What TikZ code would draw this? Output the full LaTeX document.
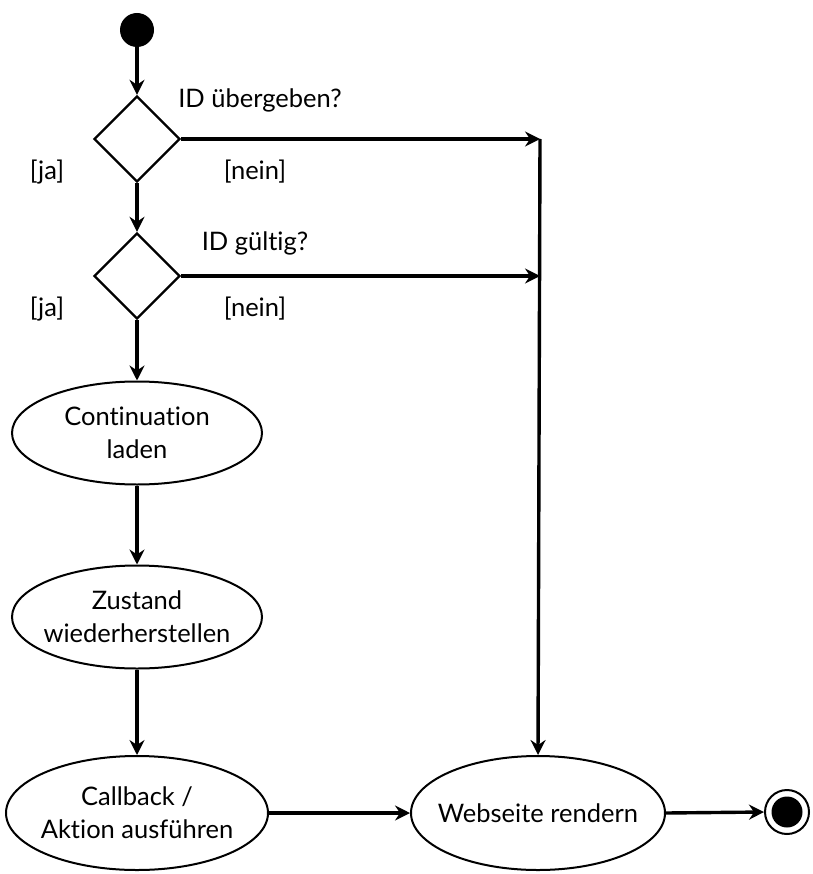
\documentclass[tikz,border=0pt]{standalone}
\usepackage{fontspec}
\setmainfont[Ligatures={NoCommon,NoRare,NoContextual}]{Lato}
\usetikzlibrary{arrows.meta,shapes.geometric}
\begin{document}
\begin{tikzpicture}[x=1pt,y=-1pt,
  font=\fontsize{25.5}{33}\selectfont,
  flow/.style={line width=3.4pt,-{Stealth[length=15pt,width=15pt,inset=5pt]}},
  activity/.style={ellipse,draw,line width=2pt,minimum width=250pt,minimum height=103pt,
    inner xsep=-45pt,inner ysep=0pt,align=center},
  decision/.style={diamond,draw,line width=2.4pt,minimum width=86pt,minimum height=86pt,inner sep=0pt},
  guard/.style={inner sep=0pt}]
\useasboundingbox (0,0) rectangle (812,874);

% start and end markers
\node[circle,fill=black,minimum size=34pt,inner sep=0pt] (start) at (137,30) {};
\node[circle,draw,line width=2pt,minimum size=44pt,inner sep=0pt] (final) at (787,812) {};
\node[circle,fill=black,minimum size=31pt,inner sep=0pt] (finaldot) at (final.center) {};

% decisions
\node[decision] (d1) at (137,139) {};
\node[decision] (d2) at (137,276) {};

% activities
\node[activity] (load) at (137,433) {Continuation\\laden};
\node[activity] (restore) at (137,617) {Zustand\\wiederherstellen};
\node[activity,minimum width=262pt,minimum height=114pt] (callback) at (137,813) {Callback /\\Aktion ausführen};
\node[activity,minimum width=254pt,minimum height=114pt] (render) at (538,813) {Webseite rendern};

% junction points on the right-hand path
\coordinate (j1) at (540,139);
\coordinate (j2) at (540,276);

% guard and question labels
\node[guard] (q1) at (260,100) {ID übergeben?};
\node[guard] (q2) at (255,243) {ID gültig?};
\node[guard] (n1) at (255,172) {[nein]};
\node[guard] (n2) at (255,309) {[nein]};
\node[guard] (y1) at (47,172) {[ja]};
\node[guard] (y2) at (47,309) {[ja]};

% connectors
\draw[flow] (start) -- (d1.north);
\draw[flow] (d1.south) -- (d2.north);
\draw[flow] (d2.south) -- (load.north);
\draw[flow] (load.south) -- (restore.north);
\draw[flow] (restore.south) -- (callback.north);
\draw[flow] (d1.east) -- (j1);
\draw[flow] (d2.east) -- (j2);
\draw[flow] (j1) -- (render.north);
\draw[flow] (callback.east) -- (render.west);
\draw[flow] (render.east) -- (final.west);
\end{tikzpicture}
\end{document}
